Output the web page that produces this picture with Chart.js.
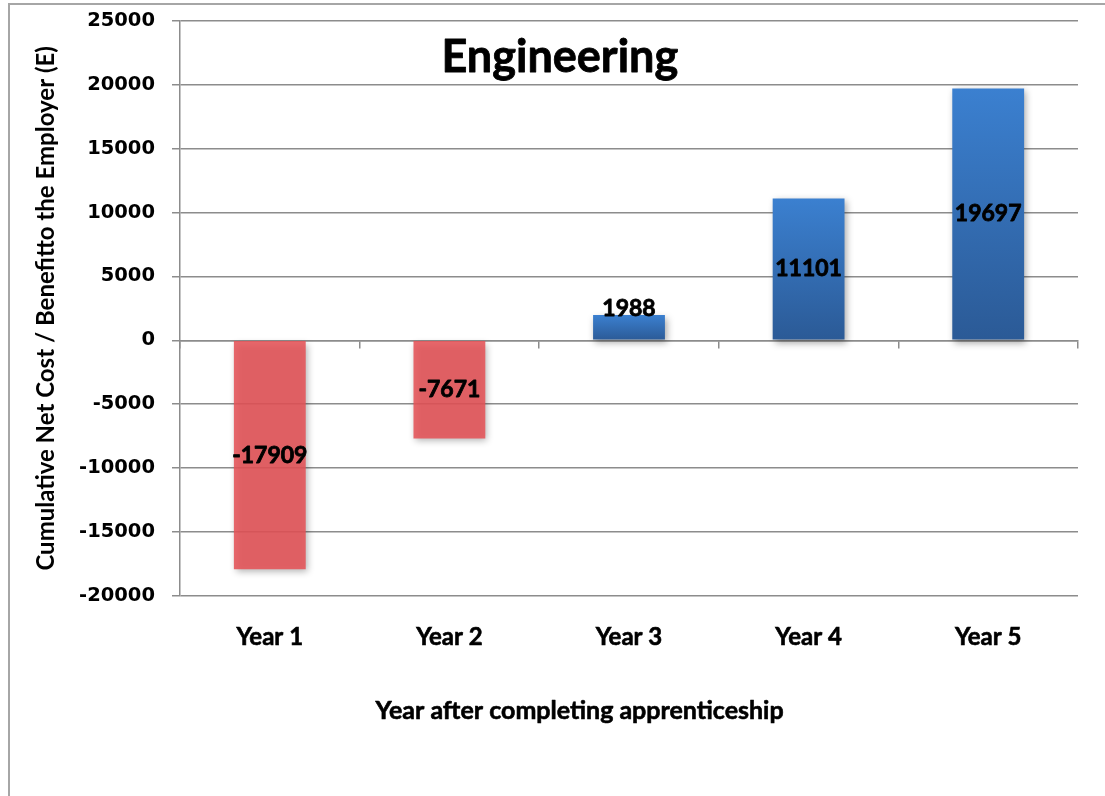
<!DOCTYPE html>
<html>
<head>
<meta charset="utf-8">
<script src="https://cdn.jsdelivr.net/npm/chart.js@4"></script>
<style>
  html, body { margin: 0; padding: 0; background: #fff; overflow: hidden; }
  #frame {
    position: absolute; left: 8px; top: 3px; width: 1200px; height: 900px;
    border-left: 2px solid #a6a6a6; border-top: 2px solid #a6a6a6;
  }
  #wrap { position: absolute; left: 0; top: -8px; width: 1105px; height: 804px; }
</style>
</head>
<body>
<div id="frame"></div>
<div id="wrap"><canvas id="chart" width="1105" height="804"></canvas></div>
<script>
// chart data
const years = ['Year 1', 'Year 2', 'Year 3', 'Year 4', 'Year 5'];
const netBenefit = [-17909, -7671, 1988, 11101, 19697];
const yMin = -20000;
const yMax = 25000;
const yStep = 5000;

const gridColor = '#8c8c8c';
const labelFont = 'Lato, "Open Sans", sans-serif';

// blue bars get a vertical gradient, negative bars are flat red
function barColor(context) {
  const chart = context.chart;
  const value = context.raw;
  if (value < 0) return 'rgba(229, 83, 88, 0.88)';
  const yScale = chart.scales.y;
  if (!yScale || !chart.chartArea) return '#3470b8';
  const top = yScale.getPixelForValue(value);
  const base = yScale.getPixelForValue(0);
  const g = chart.ctx.createLinearGradient(0, top, 0, base);
  g.addColorStop(0, '#3b80d0');
  g.addColorStop(1, '#2b5a96');
  return g;
}

// soft shadow under the bars
const shadowPlugin = {
  id: 'barShadow',
  beforeDatasetsDraw(chart) {
    const ctx = chart.ctx;
    ctx.save();
    ctx.shadowColor = 'rgba(0, 0, 0, 0.35)';
    ctx.shadowBlur = 7;
    ctx.shadowOffsetX = 2;
    ctx.shadowOffsetY = 3;
  },
  afterDatasetsDraw(chart) {
    chart.ctx.restore();
  }
};

function boldText(ctx, text, x, y, stroke) {
  ctx.lineWidth = stroke;
  ctx.strokeText(text, x, y);
  ctx.fillText(text, x, y);
}

// value labels in the middle of each bar, the in-plot title and the x axis title
const labelPlugin = {
  id: 'valueLabels',
  afterDatasetsDraw(chart) {
    const ctx = chart.ctx;
    const meta = chart.getDatasetMeta(0);
    ctx.save();
    ctx.fillStyle = '#000';
    ctx.strokeStyle = '#000';
    ctx.lineJoin = 'round';
    ctx.textAlign = 'center';
    ctx.textBaseline = 'middle';
    ctx.font = 'bold 23px ' + labelFont;
    meta.data.forEach(function (bar, i) {
      const h = Math.abs(bar.base - bar.y);
      let y = (bar.y + bar.base) / 2;
      if (h < 30) y = Math.min(bar.y, bar.base) - 6; // short bar: sit on top edge
      boldText(ctx, String(netBenefit[i]), bar.x, y, 0.8);
    });

    const area = chart.chartArea;
    const w = area.right - area.left;
    ctx.font = 'bold 45px ' + labelFont;
    boldText(ctx, 'Engineering', area.left + w * 0.423, area.top + 37, 0.8);

    ctx.font = 'bold 25px ' + labelFont;
    boldText(ctx, 'Year after completing apprenticeship', area.left + w * 0.445, area.bottom + 115, 0.6);
    ctx.restore();
  }
};

const ctx = document.getElementById('chart').getContext('2d');
new Chart(ctx, {
  type: 'bar',
  data: {
    labels: years,
    datasets: [{
      data: netBenefit,
      backgroundColor: barColor,
      borderWidth: 0,
      categoryPercentage: 1,
      barPercentage: 0.4
    }]
  },
  options: {
    responsive: false,
    animation: false,
    events: [],
    layout: { padding: { left: 28, right: 27, top: 13, bottom: 66 } },
    plugins: {
      legend: { display: false },
      tooltip: { enabled: false }
    },
    scales: {
      y: {
        min: yMin,
        max: yMax,
        ticks: {
          stepSize: yStep,
          color: '#000',
          padding: 17,
          font: { family: '"DejaVu Sans", Verdana, sans-serif', size: 19.5, weight: 'bold' },
          callback: function (value) { return String(value); }
        },
        grid: { color: gridColor, lineWidth: 1.5, tickLength: 8, tickColor: gridColor },
        border: { color: gridColor, width: 1.5 },
        title: {
          display: true,
          text: 'Cumulative Net Cost / Benefitto the Employer (E)',
          color: '#000',
          padding: { top: 4, bottom: 4 },
          font: { family: labelFont, size: 24, weight: 'bold' }
        },
        afterFit(scale) { scale.width = 152; }
      },
      x: {
        ticks: {
          color: '#000',
          padding: 27,
          textStrokeColor: '#000',
          textStrokeWidth: 0.6,
          font: { family: labelFont, size: 24, weight: 'bold' }
        },
        grid: { display: false, drawTicks: false },
        border: { display: false },
        afterFit(scale) { scale.height = 134; }
      },
      // second category axis that sits on the zero line, only for its tick marks
      x2: {
        type: 'category',
        labels: years,
        position: { y: 0 },
        offset: true,
        ticks: { display: false },
        grid: {
          offset: true,
          drawOnChartArea: false,
          tickLength: 7,
          tickColor: gridColor,
          lineWidth: 1.5
        },
        border: { color: gridColor, width: 1.5 }
      }
    }
  },
  plugins: [shadowPlugin, labelPlugin]
});
</script>
</body>
</html>
